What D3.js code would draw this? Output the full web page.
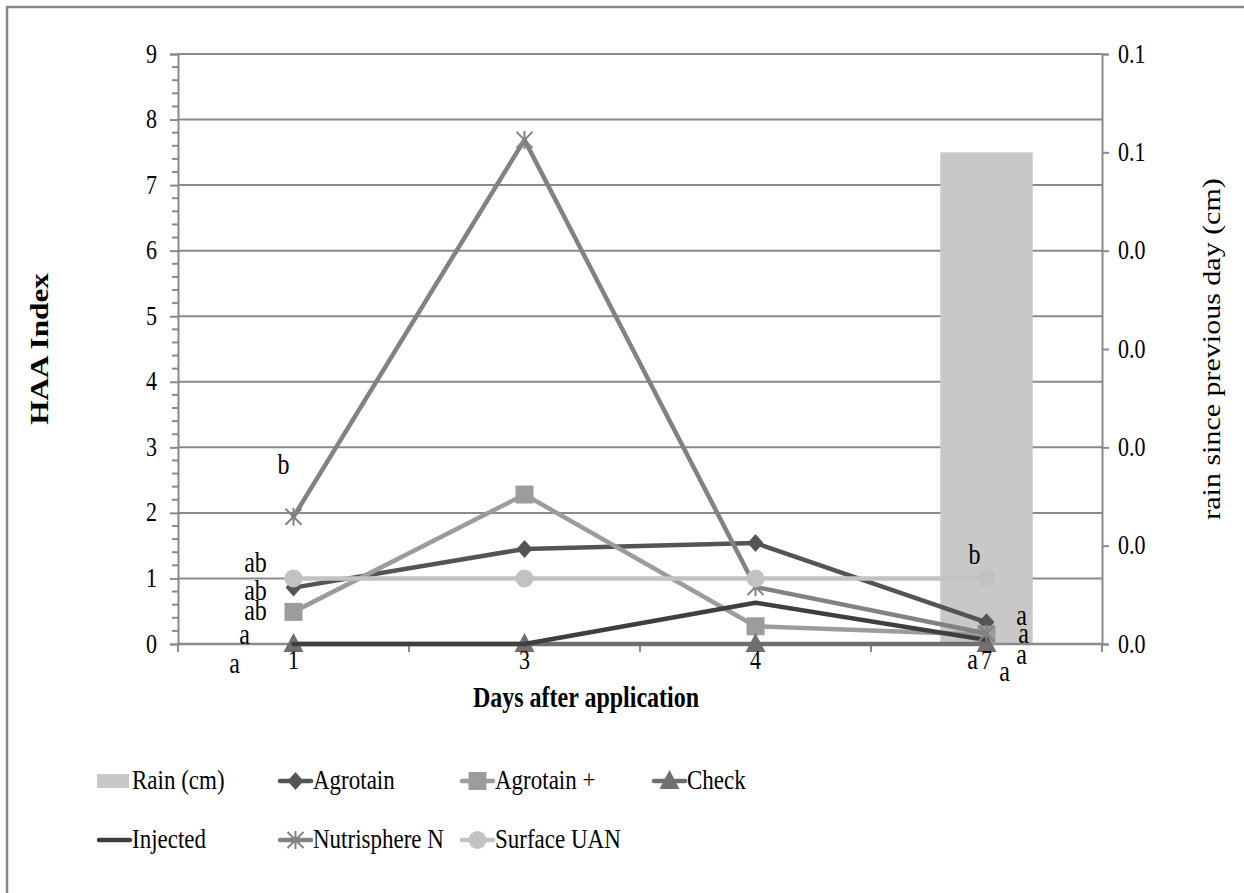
<!DOCTYPE html>
<html>
<head>
<meta charset="utf-8">
<script src="https://cdn.jsdelivr.net/npm/d3@7"></script>
<style>
  html, body { margin: 0; padding: 0; background: #fff; }
  svg { display: block; }
  text { font-family: "Liberation Serif", "Times New Roman", serif; fill: #000; }
</style>
</head>
<body>
<svg id="chart" width="1244" height="893"></svg>
<script>
// ---- data ----
const days = ["1", "3", "4", "7"];
const rain = [0, 0, 0, 0.05];
const agrotain = [0.86, 1.45, 1.54, 0.33];
const agrotainPlus = [0.49, 2.28, 0.27, 0.14];
const check = [0, 0, 0, 0];
const injected = [0, 0, 0.63, 0.06];
const nutrisphere = [1.94, 7.69, 0.87, 0.16];
const surfaceUAN = [1, 1, 1, 1];

const leftTicks = [0, 1, 2, 3, 4, 5, 6, 7, 8, 9];
const rightTicks = [0, 0.01, 0.02, 0.03, 0.04, 0.05, 0.06];

// significance letters: series name, day, letter
const letterSeries = ["Nutrisphere N", "Surface UAN", "Agrotain", "Agrotain +", "Check", "Injected",
                      "Surface UAN", "Agrotain", "Agrotain +", "Nutrisphere N", "Check", "Injected"];
const letterDays = ["1", "1", "1", "1", "1", "1", "7", "7", "7", "7", "7", "7"];
const letters = ["b", "ab", "ab", "ab", "a", "a", "b", "a", "a", "a", "a", "a"];

// ---- layout ----
const svg = d3.select("#chart");
const plot = { left: 178, right: 1102, top: 54, bottom: 644 };
const SY = 1.2; // vertical stretch applied to glyphs
const grid = "#8a8a8a";

// offsets of each letter from its point (pixels)
const letterOffsets = [[-10, -43], [-38, -6], [-38, 12], [-38, 8], [-49, 0], [-59, 29],
                       [-12, -14], [35, 3], [37, 8], [35, 30], [-14, 25], [18, 41]];

const x = d3.scaleBand().domain(days).range([plot.left, plot.right]);
const xc = d => x(d) + x.bandwidth() / 2;
const y = d3.scaleLinear().domain([0, 9]).range([plot.bottom, plot.top]);
const y2 = d3.scaleLinear().domain([0, 0.06]).range([plot.bottom, plot.top]);

function hText(g, tx, ty, str, size, anchor, weight) {
  return g.append("text")
    .attr("transform", `translate(${tx},${ty}) scale(1,${SY})`)
    .attr("text-anchor", anchor || "start")
    .style("font-size", size + "px")
    .style("font-weight", weight || "normal")
    .text(str);
}

// outer chart border
svg.append("path")
  .attr("d", `M7,${893 + 5} L7,7 L${1244 + 5},7`)
  .attr("fill", "none").attr("stroke", "#878787").attr("stroke-width", 2.5);

// horizontal gridlines
svg.append("g").selectAll("line").data(leftTicks.filter(t => t > 0)).join("line")
  .attr("x1", plot.left).attr("x2", plot.right)
  .attr("y1", d => y(d)).attr("y2", d => y(d))
  .attr("stroke", grid).attr("stroke-width", 2);

// rain bars on the secondary axis
const barW = x.bandwidth() * 0.4;
svg.append("g").selectAll("rect").data(days.map((d, i) => ({ d, v: rain[i] }))).join("rect")
  .attr("x", p => xc(p.d) - barW / 2)
  .attr("width", barW)
  .attr("y", p => y2(p.v))
  .attr("height", p => plot.bottom - y2(p.v))
  .attr("fill", "#c8c8c8");

// left axis
const leftAxis = svg.append("g").attr("transform", `translate(${plot.left},0)`)
  .call(d3.axisLeft(y).tickValues(leftTicks).tickSize(8).tickFormat(d3.format("d")));
const minor = d3.range(0, 9.0001, 0.2).filter(v => Math.abs(v - Math.round(v)) > 1e-6);
leftAxis.selectAll(".minor").data(minor).join("line").attr("class", "minor")
  .attr("x1", -6).attr("x2", 0).attr("y1", d => y(d)).attr("y2", d => y(d))
  .attr("stroke", grid).attr("stroke-width", 2);
leftAxis.select(".domain").attr("stroke", grid).attr("stroke-width", 2);
leftAxis.selectAll(".tick line").attr("stroke", grid).attr("stroke-width", 2);
leftAxis.selectAll(".tick text").each(function () {
  const t = d3.select(this);
  t.attr("x", null).attr("dy", null)
   .attr("transform", `translate(-21,8) scale(1,${SY})`)
   .attr("text-anchor", "end")
   .style("font-size", "22px").style("font-family", "Liberation Serif");
});

// right axis
const rightAxis = svg.append("g").attr("transform", `translate(${plot.right},0)`)
  .call(d3.axisRight(y2).tickValues(rightTicks).tickSize(7).tickFormat(d3.format(".1f")));
rightAxis.select(".domain").attr("stroke", grid).attr("stroke-width", 2);
rightAxis.selectAll(".tick line").attr("stroke", grid).attr("stroke-width", 2);
rightAxis.selectAll(".tick text").each(function () {
  const t = d3.select(this);
  t.attr("x", null).attr("dy", null)
   .attr("transform", `translate(16,8) scale(1,${SY})`)
   .attr("text-anchor", "start")
   .style("font-size", "22px").style("font-family", "Liberation Serif");
});

// bottom axis: ticks between categories
const bottom = svg.append("g").attr("transform", `translate(0,${plot.bottom})`);
const boundaries = days.map(d => x(d)).concat([plot.right]);
bottom.selectAll("line.tk").data(boundaries).join("line").attr("class", "tk")
  .attr("x1", d => d).attr("x2", d => d).attr("y1", 0).attr("y2", 8)
  .attr("stroke", grid).attr("stroke-width", 2);
bottom.append("line").attr("x1", plot.left).attr("x2", plot.right)
  .attr("stroke", grid).attr("stroke-width", 2.5);

// series lines and markers
const series = [
  { name: "Agrotain", values: agrotain, color: "#545454", marker: "diamond" },
  { name: "Agrotain +", values: agrotainPlus, color: "#9c9c9c", marker: "square" },
  { name: "Check", values: check, color: "#6f6f6f", marker: "triangle" },
  { name: "Injected", values: injected, color: "#3f3f3f", marker: "none" },
  { name: "Nutrisphere N", values: nutrisphere, color: "#828282", marker: "star" },
  { name: "Surface UAN", values: surfaceUAN, color: "#c2c2c2", marker: "circle" }
];

function drawMarker(g, type, cx, cy, color) {
  if (type === "diamond") {
    g.append("path").attr("d", `M${cx},${cy - 9} L${cx + 8},${cy} L${cx},${cy + 9} L${cx - 8},${cy} Z`).attr("fill", color);
  } else if (type === "square") {
    g.append("rect").attr("x", cx - 9).attr("y", cy - 9).attr("width", 18).attr("height", 18).attr("fill", color);
  } else if (type === "triangle") {
    g.append("path").attr("d", `M${cx},${cy - 11} L${cx + 10},${cy + 8} L${cx - 10},${cy + 8} Z`).attr("fill", color);
  } else if (type === "circle") {
    g.append("circle").attr("cx", cx).attr("cy", cy).attr("r", 9).attr("fill", color);
  } else if (type === "star") {
    const r = 8;
    g.append("path")
      .attr("d", `M${cx - r},${cy - r} L${cx + r},${cy + r} M${cx - r},${cy + r} L${cx + r},${cy - r} M${cx},${cy - r - 1} L${cx},${cy + r + 1}`)
      .attr("stroke", color).attr("stroke-width", 2).attr("fill", "none");
  }
}

const line = d3.line().x(p => xc(p.d)).y(p => y(p.v));
series.forEach(s => {
  const pts = days.map((d, i) => ({ d, v: s.values[i] }));
  const g = svg.append("g");
  g.append("path").attr("d", line(pts)).attr("fill", "none")
    .attr("stroke", s.color).attr("stroke-width", 4.5)
    .attr("stroke-linejoin", "round").attr("stroke-linecap", "round");
  pts.forEach(p => drawMarker(g, s.marker, xc(p.d), y(p.v), s.color));
});

// category labels under the axis
const catLabels = svg.append("g").attr("transform", `translate(0,${plot.bottom})`);
days.forEach(d => hText(catLabels, xc(d), 25, d, 22, "middle"));

// significance letters
const valueOf = name => series.find(s => s.name === name).values;
const lettersG = svg.append("g");
letters.forEach((txt, i) => {
  const d = letterDays[i];
  const v = valueOf(letterSeries[i])[days.indexOf(d)];
  hText(lettersG, xc(d) + letterOffsets[i][0], y(v) + letterOffsets[i][1], txt, 24, "middle");
});

// axis titles
svg.append("text")
  .attr("transform", `translate(48,${(plot.top + plot.bottom) / 2}) rotate(-90) scale(${SY},1)`)
  .attr("text-anchor", "middle")
  .style("font-size", "26px").style("font-weight", "bold")
  .text("HAA Index");
svg.append("text")
  .attr("transform", `translate(1220,${(plot.top + plot.bottom) / 2}) rotate(-90) scale(${SY},1)`)
  .attr("text-anchor", "middle")
  .style("font-size", "25px")
  .text("rain since previous day (cm)");
hText(svg, 586, 707, "Days after application", 24, "middle", "bold");

// legend
const legend = svg.append("g");
const legendItems = [
  { name: "Rain (cm)", col: 0, row: 0, bar: true, color: "#c8c8c8" },
  { name: "Agrotain", col: 1, row: 0, s: series[0] },
  { name: "Agrotain +", col: 2, row: 0, s: series[1] },
  { name: "Check", col: 3, row: 0, s: series[2] },
  { name: "Injected", col: 0, row: 1, s: series[3] },
  { name: "Nutrisphere N", col: 1, row: 1, s: series[4] },
  { name: "Surface UAN", col: 2, row: 1, s: series[5] }
];
const colX = [97, 278, 460, 652];
const rowY = [781, 840];
legendItems.forEach(it => {
  const lx = colX[it.col], ly = rowY[it.row];
  const g = legend.append("g");
  if (it.bar) {
    g.append("rect").attr("x", lx).attr("y", ly - 7).attr("width", 32).attr("height", 14).attr("fill", it.color);
  } else {
    g.append("line").attr("x1", lx + 2).attr("x2", lx + 33).attr("y1", ly).attr("y2", ly)
      .attr("stroke", it.s.color).attr("stroke-width", 4.5).attr("stroke-linecap", "round");
    drawMarker(g, it.s.marker, lx + 17.5, ly, it.s.color);
  }
  hText(g, lx + 35, ly + 8, it.name, 23, "start");
});
</script>
</body>
</html>
